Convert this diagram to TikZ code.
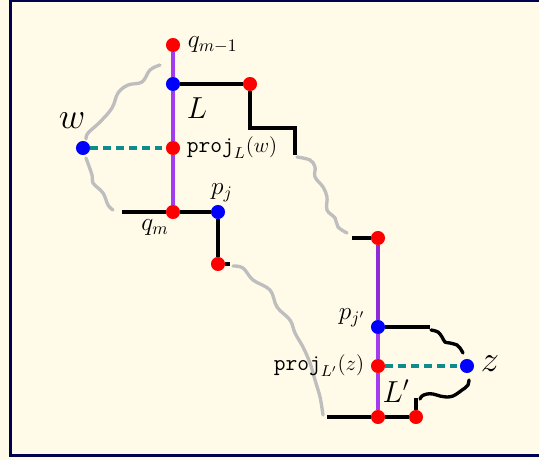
\documentclass[tikz,border=0pt]{standalone}
\usepackage{tikz}
\usetikzlibrary{positioning}
\definecolor{creambg}{HTML}{FFFBE8}
\definecolor{framenavy}{HTML}{000050}
\definecolor{linepurple}{HTML}{A33BEF}
\definecolor{darkpurple}{HTML}{8E2BD8}
\definecolor{projteal}{HTML}{0E8C8C}
\definecolor{pathgray}{HTML}{BEBEBE}

\begin{document}
\begin{tikzpicture}[
    dot/.style={circle, minimum size=8pt, inner sep=0pt},
    rdot/.style={dot, fill=red},
    bdot/.style={dot, fill=blue},
    lbl/.style={font=\fontsize{14}{16}\selectfont, inner sep=1pt},
    projlbl/.style={font=\fontsize{13}{15}\selectfont, inner sep=1pt},
    seg/.style={line width=1.9pt, black},
    axis/.style={line width=1.9pt, linepurple},
    proj/.style={line width=1.9pt, projteal, dash pattern=on 4.5pt off 2.8pt},
    wig/.style={line width=1.9pt, pathgray, line cap=round, smooth, tension=0.6},
    bwig/.style={seg, line cap=round, smooth, tension=0.6}
]
% background and frame
\useasboundingbox (0,0) rectangle (10.78,9.2);
\fill[creambg] (0,0) rectangle (10.78,9.2);
\draw[framenavy, line width=1.8pt] (10.78,9.19) -- (0.21,9.19) -- (0.21,0.09) -- (10.78,0.09);

% points around L
\node[rdot] (qm1) at (3.46,8.30) {};
\node[bdot] (bL)  at (3.46,7.52) {};
\node[rdot] (prL) at (3.46,6.24) {};
\node[rdot] (qm)  at (3.46,4.96) {};
\node[bdot] (w)   at (1.66,6.24) {};
\node[rdot] (r1)  at (5.00,7.52) {};
\node[bdot] (pj)  at (4.36,4.96) {};
\node[rdot] (r2)  at (4.36,3.92) {};

% points around L'
\node[rdot] (r3)  at (7.56,4.44) {};
\node[bdot] (pjp) at (7.56,2.66) {};
\node[rdot] (prR) at (7.56,1.88) {};
\node[rdot] (r4)  at (7.56,0.86) {};
\node[rdot] (r5)  at (8.32,0.86) {};
\node[bdot] (z)   at (9.34,1.88) {};

% free ends
\coordinate (c1) at (5.00,6.64);
\coordinate (c2) at (5.90,6.64);
\coordinate (c3) at (5.90,6.10);
\coordinate (c4) at (7.04,4.44);
\coordinate (c5) at (4.60,3.92);
\coordinate (c6) at (2.44,4.96);
\coordinate (c7) at (6.54,0.86);
\coordinate (c8) at (8.60,2.66);
\coordinate (c9) at (8.32,1.24);

% path pieces
\draw[seg] (bL) -- (r1) -- (c1) -- (c2) -- (c3);
\draw[seg] (c6) -- (qm) -- (pj) -- (r2) -- (c5);
\draw[seg] (c4) -- (r3);
\draw[seg] (pjp) -- (c8);
\draw[seg] (c7) -- (r4) -- (r5) -- (c9);

% the lines L and L'
\draw[axis] (qm1) -- (bL) -- (prL) -- (qm);
\draw[axis, darkpurple] (r3) -- (pjp);
\draw[axis] (pjp) -- (prR) -- (r4);

% projections
\draw[proj] (w) -- (prL);
\draw[proj] (prR) -- (z);

% wiggly parts
\draw[wig] plot coordinates {(3.20,7.90) (3.00,7.80) (2.84,7.56) (2.56,7.50) (2.36,7.34) (2.24,7.04) (2.00,6.76) (1.76,6.54) (1.72,6.42)};
\draw[wig] plot coordinates {(1.72,6.04) (1.84,5.70) (1.86,5.54) (2.06,5.34) (2.16,5.10) (2.26,5.00)};
\draw[wig] plot coordinates {(5.94,6.06) (6.20,6.00) (6.30,5.86) (6.30,5.66) (6.46,5.46) (6.54,5.26) (6.54,5.00) (6.70,4.84) (6.76,4.66) (6.94,4.54)};
\draw[wig] plot coordinates {(4.66,3.88) (4.86,3.84) (5.06,3.60) (5.40,3.40) (5.54,3.06) (5.80,2.80) (5.90,2.54) (6.06,2.26) (6.20,1.94) (6.30,1.60) (6.40,1.26) (6.46,0.90)};
\draw[bwig] plot coordinates {(8.62,2.60) (8.76,2.56) (8.84,2.46) (8.90,2.36) (9.00,2.34) (9.14,2.30) (9.20,2.24) (9.26,2.14)};
\draw[bwig] plot coordinates {(9.38,1.60) (9.36,1.50) (9.30,1.44) (9.24,1.40) (9.16,1.34) (9.06,1.28) (8.94,1.26) (8.80,1.28) (8.66,1.32) (8.54,1.32) (8.44,1.28) (8.40,1.22)};

% labels
\node[lbl, right=3pt of qm1] (lqm1) {$q_{m-1}$};
\node[font=\LARGE] (lL) at (3.94,7.04) {$L$};
\node[font=\huge] (lw) at (1.44,6.78) {$w$};
\node[projlbl, right=2.5pt of prL] (lprL) {$\texttt{proj}_L(w)$};
\node[lbl] (lpj) at (4.44,5.34) {$p_j$};
\node[lbl] (lqm) at (3.10,4.64) {$q_m$};
\node[lbl] (lpjp) at (7.04,2.84) {$p_{j'}$};
\node[projlbl, left=2.5pt of prR] (lprR) {$\texttt{proj}_{L'}(z)$};
\node[font=\LARGE] (lLp) at (7.92,1.38) {$L'$};
\node[font=\huge] (lz) at (9.80,1.92) {$z$};
\end{tikzpicture}
\end{document}
